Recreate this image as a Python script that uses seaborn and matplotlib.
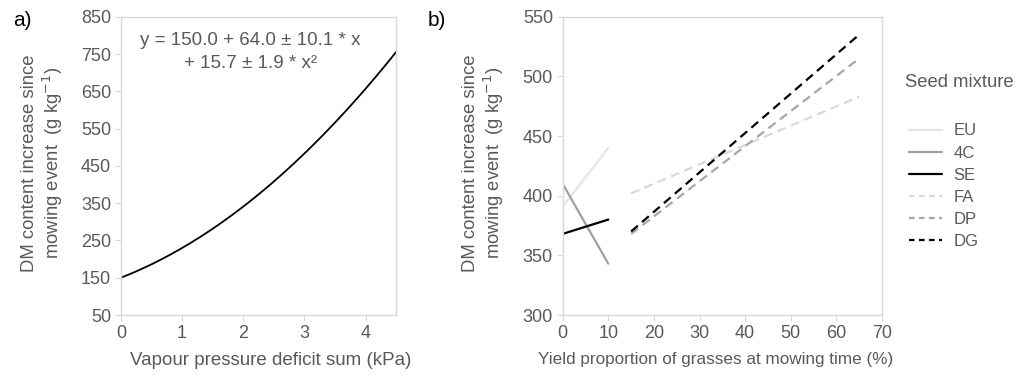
import numpy as np
import pandas as pd
import matplotlib
matplotlib.use("Agg")
import matplotlib.pyplot as plt
from matplotlib.lines import Line2D
import seaborn as sns

# Panel a: quadratic fit of DM content increase on vapour pressure deficit sum
coef_intercept = 150.0
coef_linear = 64.0
coef_quadratic = 15.7
se_linear = 10.1
se_quadratic = 1.9
vpd_range = [0.0, 4.5]

# Panel b: fitted lines per seed mixture (start / end of each segment)
mixtures = ["EU", "4C", "SE", "FA", "DP", "DG"]
x_start = [0, 0, 0, 15, 15, 15]
x_end = [10, 10, 10, 65, 65, 65]
y_start = [391, 410, 368, 402, 368, 370]
y_end = [440, 343, 380, 483, 515, 535]

colors = ["#e6e6e6", "#a0a0a0", "#000000", "#d9d9d9", "#a6a6a6", "#000000"]
dashed = [False, False, False, True, True, True]

sns.set_theme(style="white")
plt.rcParams["font.family"] = ["Liberation Sans", "DejaVu Sans"]

TEXT = "#595959"
SPINE = "#d9d9d9"

fig = plt.figure(figsize=(10.24, 3.8), dpi=100)
ax_a = fig.add_axes([0.118, 0.171, 0.269, 0.785])
ax_b = fig.add_axes([0.5495, 0.171, 0.3118, 0.785])

# ---- panel a ----
vpd = np.linspace(vpd_range[0], vpd_range[1], 200)
df_a = pd.DataFrame({
    "vpd": vpd,
    "dm": coef_intercept + coef_linear * vpd + coef_quadratic * vpd ** 2,
})
sns.lineplot(data=df_a, x="vpd", y="dm", ax=ax_a, color="black", lw=1.3)
ax_a.set_xlim(0, 4.5)
ax_a.set_ylim(50, 850)
ax_a.set_xticks([0, 1, 2, 3, 4])
ax_a.set_yticks(np.arange(50, 851, 100))
ax_a.text(0.47, 0.95,
          f"y = {coef_intercept:.1f} + {coef_linear:.1f} \u00b1 {se_linear} * x\n"
          f"+ {coef_quadratic} \u00b1 {se_quadratic} * x\u00b2",
          transform=ax_a.transAxes, ha="center", va="top", multialignment="center",
          fontsize=13.5, color=TEXT, linespacing=1.5)
ax_a.set_xlabel("Vapour pressure deficit sum (kPa)", fontsize=13.5, color=TEXT)
ax_a.xaxis.set_label_coords(0.545, -0.125)

# ---- panel b ----
rows = []
for m, x0, x1, y0, y1 in zip(mixtures, x_start, x_end, y_start, y_end):
    rows.append({"mixture": m, "x": x0, "y": y0})
    rows.append({"mixture": m, "x": x1, "y": y1})
df_b = pd.DataFrame(rows)
palette = dict(zip(mixtures, colors))
dash_map = {m: ((4, 2.5) if d else "") for m, d in zip(mixtures, dashed)}
sns.lineplot(data=df_b, x="x", y="y", hue="mixture", style="mixture",
             palette=palette, dashes=dash_map, hue_order=mixtures,
             style_order=mixtures, sort=False, lw=1.6, ax=ax_b, legend=False)
ax_b.set_xlim(0, 70)
ax_b.set_ylim(300, 550)
ax_b.set_xticks(np.arange(0, 71, 10))
ax_b.set_yticks(np.arange(300, 551, 50))
ax_b.set_xlabel("Yield proportion of grasses at mowing time (%)", fontsize=12.3, color=TEXT)
ax_b.xaxis.set_label_coords(0.48, -0.125)

ylabel = "DM content increase since\nmowing event  (g kg$^{-1}$)"
for ax, lx in ((ax_a, -0.204), (ax_b, -0.177)):
    ax.set_ylabel(ylabel, fontsize=13.3, color=TEXT, linespacing=1.15)
    ax.yaxis.set_label_coords(lx, 0.51)
    ax.tick_params(axis="both", which="both", direction="out", length=4,
                   width=0.8, color=SPINE, labelcolor=TEXT, labelsize=13, pad=3,
                   bottom=True, left=True)
    for s in ax.spines.values():
        s.set_color(SPINE)
        s.set_linewidth(1.0)
    ax.grid(False)

# Legend for seed mixtures
handles = [Line2D([0], [0], color=c, lw=1.6,
                  linestyle=(0, (2.5, 2)) if d else "-")
           for c, d in zip(colors, dashed)]
fig.text(0.884, 0.782, "Seed mixture", fontsize=13.3, color=TEXT, ha="left", va="center")
fig.legend(handles, mixtures, loc="upper left", bbox_to_anchor=(0.876, 0.706),
           frameon=False, fontsize=12, labelcolor=TEXT, handlelength=2.0,
           handletextpad=0.7, labelspacing=0.43, borderpad=0.2)

fig.text(0.013, 0.945, "a)", fontsize=15, color="black", ha="left", va="center")
fig.text(0.418, 0.945, "b)", fontsize=15, color="black", ha="left", va="center")

fig.savefig("out.png", dpi=100)
